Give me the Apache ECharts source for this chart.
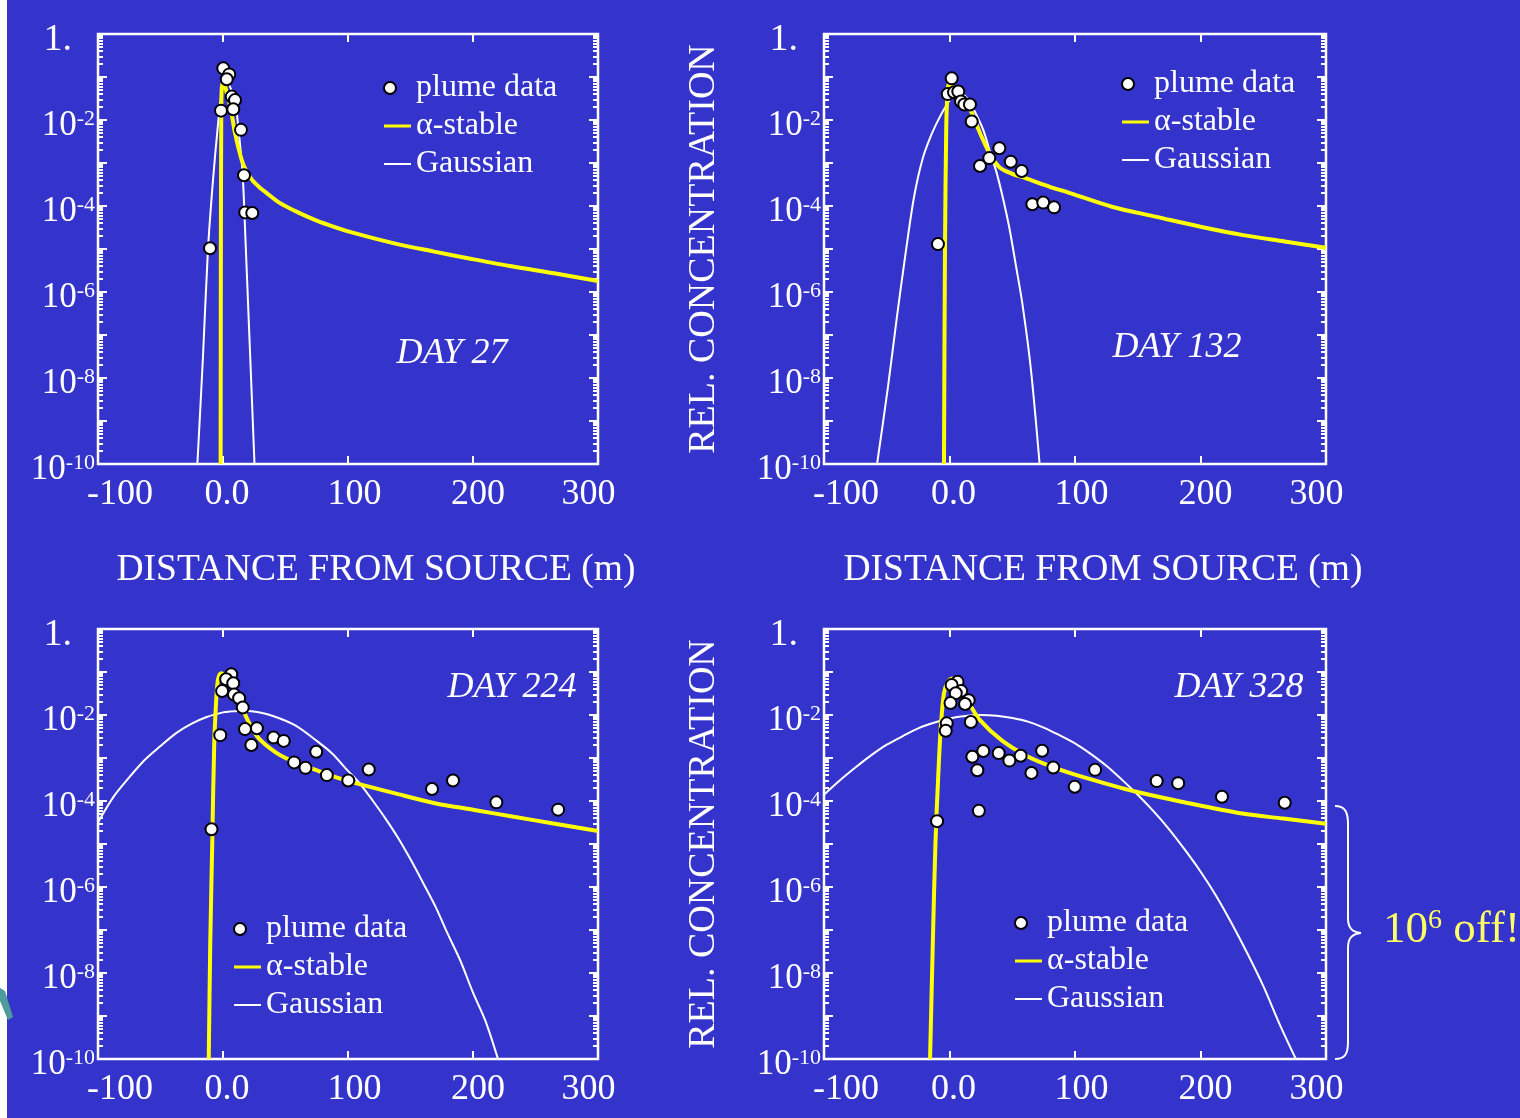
<!DOCTYPE html>
<html>
<head>
<meta charset="utf-8">
<script src="https://cdn.jsdelivr.net/npm/echarts@6/dist/echarts.min.js"></script>
<style>
html,body{margin:0;padding:0;background:#3434cc;}
#c{width:1520px;height:1118px;}
</style>
</head>
<body>
<div id="c"></div>
<script>
// ---------- DATA ----------
// x: distance from source (m), c: relative concentration
const xTicks = [-100, 0, 100, 200, 300];
const xTickLabels = ['-100', '0.0', '100', '200', '300'];
const yLabelTicks = [1, 1e-2, 1e-4, 1e-6, 1e-8, 1e-10];

// DAY 27
const d27PlumeX = [0.2, 5.0, 3.0, 7.0, 9.6, -1.6, 8.2, 14.4, 16.8, 17.8, 23.4, -10.4];
const d27PlumeC = [0.159, 0.115, 0.089, 0.035, 0.029, 0.0165, 0.0178, 5.9e-3, 5.2e-4, 7.1e-5, 6.9e-5, 1.04e-5];
const d27StableX = [-1.9, -1.7, -1.4, -1.0, 0.3, 2.0, 4.0, 6.0, 9.6, 15, 19, 24, 30, 35, 45, 60, 74, 90, 106, 137, 169, 200, 232, 266, 300];
const d27StableC = [1e-10, 1e-5, 1e-2, 5.6e-2, 7.9e-2, 5.6e-2, 3.2e-2, 2.0e-2, 5.0e-3, 1.17e-3, 6.3e-4, 3.8e-4, 2.6e-4, 2.0e-4, 1.2e-4, 7.1e-5, 4.7e-5, 3.2e-5, 2.3e-5, 1.35e-5, 8.7e-6, 5.8e-6, 3.9e-6, 2.7e-6, 1.8e-6];
const d27GaussX = [-20.5, -16, -12, -8, -4, -1, 1.5, 3, 6, 9.6, 12.7, 15.8, 18, 20.5, 23, 25.2];
const d27GaussC = [1e-10, 3.2e-8, 1e-5, 4e-4, 7.9e-3, 4.5e-2, 7.9e-2, 7.9e-2, 5.6e-2, 2.8e-2, 5e-3, 5e-4, 1.6e-5, 2.5e-7, 4e-9, 1e-10];

// DAY 132
const d132PlumeX = [1.75, -1.4, 3.6, 7.0, 9.2, 11.8, 16.3, 17.7, 24.3, 31.7, 39.7, 48.8, 57.5, 66, 74.7, 83.3, -9.2];
const d132PlumeC = [0.093, 0.040, 0.044, 0.046, 0.027, 0.023, 0.023, 9.2e-3, 8.5e-4, 1.3e-3, 2.2e-3, 1.07e-3, 6.5e-4, 1.1e-4, 1.2e-4, 9.3e-5, 1.3e-5];
const d132StableX = [-4.4, -3.6, -2.6, -1.6, -0.4, 2, 6, 10, 13.7, 18, 24.3, 32.3, 40, 50, 60, 80, 96, 130, 165, 200, 234, 267, 300];
const d132StableC = [1e-10, 1e-5, 6.3e-3, 4.5e-2, 7.2e-2, 6.3e-2, 4.5e-2, 3.2e-2, 2.5e-2, 1.4e-2, 5e-3, 1.6e-3, 7.9e-4, 5.6e-4, 4.5e-4, 2.8e-4, 2e-4, 9.5e-5, 5.6e-5, 3.3e-5, 2.1e-5, 1.5e-5, 1.07e-5];
const d132GaussX = [-57.7, -49, -42, -35, -28.3, -21.4, -14.5, -7.6, -2.4, 3, 8, 14, 20, 26.9, 32.3, 37.3, 42, 47.6, 53, 58, 64.9, 71.8];
const d132GaussC = [1e-10, 6.3e-9, 2.5e-7, 7.9e-6, 1.6e-4, 1.26e-3, 4.5e-3, 1.2e-2, 2.2e-2, 3.8e-2, 4.5e-2, 3.2e-2, 1.6e-2, 5.9e-3, 1.8e-3, 6.3e-4, 1.8e-4, 3.2e-5, 4e-6, 5.5e-7, 1.55e-8, 1e-10];

// DAY 224
const d224PlumeX = [6.6, 2.5, 8.2, -0.7, 8.8, 12.9, 15.8, -2.2, 17.6, 27.1, 22.7, 40.4, 48.6, 74.6, 56.9, 66, 83.1, 100.2, 116.6, 167.2, 184, 218.7, 268.1, -9.2];
const d224PlumeC = [0.089, 0.068, 0.055, 0.036, 0.030, 0.0245, 0.015, 3.4e-3, 4.7e-3, 4.9e-3, 2.0e-3, 3.0e-3, 2.5e-3, 1.4e-3, 7.9e-4, 5.9e-4, 4.0e-4, 3.0e-4, 5.4e-4, 1.9e-4, 3.0e-4, 9.3e-5, 6.3e-5, 2.2e-5];
const d224StableX = [-11.4, -10.2, -8.6, -7.0, -5.1, -3.8, -1.4, 2, 8.2, 16, 27.2, 43, 58, 74.6, 90, 106.2, 137.8, 169.4, 201, 232.6, 264.3, 300];
const d224StableC = [1e-10, 4.9e-8, 1.05e-5, 2.2e-3, 3.2e-2, 7.1e-2, 9.3e-2, 7.9e-2, 4.6e-2, 1.3e-2, 3.2e-3, 1.3e-3, 7.9e-4, 5.2e-4, 3.6e-4, 2.6e-4, 1.5e-4, 8.9e-5, 6.2e-5, 4.3e-5, 3.0e-5, 2.0e-5];
const d224GaussX = [-100, -87.5, -75, -62.5, -50, -37.5, -25, -12.5, 0, 5, 15, 27.5, 40, 57.5, 75, 87.5, 100, 110, 120, 130, 140, 150, 160, 170, 180, 190, 200, 210, 220];
const d224GaussC = [3.16e-5, 1.26e-4, 3.55e-4, 9.1e-4, 1.9e-3, 3.8e-3, 6.3e-3, 9.1e-3, 1.15e-2, 1.2e-2, 1.26e-2, 1.17e-2, 9.5e-3, 5.8e-3, 2.5e-3, 1.26e-3, 5e-4, 2.45e-4, 1e-4, 3.9e-5, 1.4e-5, 4.4e-6, 1.26e-6, 3.5e-7, 7.9e-8, 1.9e-8, 3.5e-9, 7.6e-10, 1e-10];

// DAY 328
const d328PlumeX = [6.4, 1.7, 9.3, 5.0, 15.3, 12.4, 0.8, 17.0, -2.2, -3.0, 18.2, 26.9, 39.2, 47.7, 56.7, 73.8, 22.2, 65.3, 82.7, 116, 99.8, 165.1, 182.2, 217.1, 267.1, 23.4, -9.9];
const d328PlumeC = [0.059, 0.050, 0.036, 0.032, 0.022, 0.018, 0.019, 6.9e-3, 6.4e-3, 4.3e-3, 1.07e-3, 1.45e-3, 1.3e-3, 8.7e-4, 1.13e-3, 1.48e-3, 5.2e-4, 4.5e-4, 6.0e-4, 5.3e-4, 2.15e-4, 2.9e-4, 2.6e-4, 1.26e-4, 9.1e-5, 5.9e-5, 3.4e-5];
const d328StableX = [-15.5, -13.3, -11.2, -9.0, -6.9, -4.4, -1.4, 2.1, 8, 15.7, 24.3, 41.4, 62.7, 84, 105.3, 148, 190.7, 233.4, 266, 300];
const d328StableC = [1e-10, 4.9e-8, 1.05e-5, 3.7e-4, 5.4e-3, 3.2e-2, 5.9e-2, 7.1e-2, 4.5e-2, 1.86e-2, 7.6e-3, 2.6e-3, 1.07e-3, 5.9e-4, 3.7e-4, 1.66e-4, 8.9e-5, 5.1e-5, 3.9e-5, 2.95e-5];
const d328GaussX = [-100, -87.5, -75, -62.5, -50, -37.5, -25, -12.5, 0, 12.5, 25, 37.5, 50, 62.5, 75, 87.5, 100, 112.5, 125, 137.5, 150, 162.5, 175, 187.5, 200, 212.5, 225, 237.5, 250, 263, 276];
const d328GaussC = [1.4e-4, 3.0e-4, 6e-4, 1.15e-3, 2.04e-3, 3.2e-3, 4.9e-3, 6.6e-3, 8.3e-3, 9.5e-3, 1e-2, 9.6e-3, 8.5e-3, 7.0e-3, 5.1e-3, 3.4e-3, 2.2e-3, 1.25e-3, 6.6e-4, 3.1e-4, 1.4e-4, 5.8e-5, 2.2e-5, 7.4e-6, 2.3e-6, 6.2e-7, 1.4e-7, 2.8e-8, 5e-9, 6.5e-10, 1e-10];

const dayLabels = ['DAY 27', 'DAY 132', 'DAY 224', 'DAY 328'];
const seriesNames = ['plume data', '\u03b1-stable', 'Gaussian'];

// ---------- BUILD ----------
const FONT = 'Liberation Serif';
const WHITE = '#ffffff';
const zip = (xs, ys) => xs.map((x, i) => [x, ys[i]]);

const yMajor = [];
const yMinor = [];
for (let k = -10; k <= 0; k++) {
  yMajor.push(Math.pow(10, k));
  if (k < 0) for (let m = 2; m <= 9; m++) yMinor.push(m * Math.pow(10, k));
}

const panels = [
  {plume: [d27PlumeX, d27PlumeC], stable: [d27StableX, d27StableC], gauss: [d27GaussX, d27GaussC],
   grid: {left: 98, top: 34, width: 500, height: 430}, legend: {left: 383, top: 72}, xName: true, yName: false,
   day: {x: 452, y: 354}},
  {plume: [d132PlumeX, d132PlumeC], stable: [d132StableX, d132StableC], gauss: [d132GaussX, d132GaussC],
   grid: {left: 824, top: 34, width: 502, height: 430}, legend: {left: 1121, top: 68}, xName: true, yName: true,
   day: {x: 1177, y: 348}},
  {plume: [d224PlumeX, d224PlumeC], stable: [d224StableX, d224StableC], gauss: [d224GaussX, d224GaussC],
   grid: {left: 98, top: 629, width: 500, height: 430}, legend: {left: 233, top: 913}, xName: false, yName: false,
   day: {x: 512, y: 688}},
  {plume: [d328PlumeX, d328PlumeC], stable: [d328StableX, d328StableC], gauss: [d328GaussX, d328GaussC],
   grid: {left: 824, top: 629, width: 502, height: 430}, legend: {left: 1014, top: 907}, xName: false, yName: true,
   day: {x: 1239, y: 688}}
];

const grid = [], xAxis = [], yAxis = [], series = [], legend = [], graphic = [];

const tickStyle = {color: WHITE, width: 2};
const yLabelRich = {
  n: {fontFamily: FONT, fontSize: 35, color: WHITE, lineHeight: 36},
  e: {fontFamily: FONT, fontSize: 22, color: WHITE, lineHeight: 22, verticalAlign: 'top'},
  one: {fontFamily: FONT, fontSize: 38, color: WHITE, lineHeight: 36, padding: [0, 23, 0, 0]}
};
function yFmt(v) {
  const e = Math.round(Math.log10(v));
  if (e === 0) return '{one|1.}';
  return '{n|10}{e|' + e + '}';
}
// x tick labels: each label sits a little off its tick, as in the picture
const xLabelBase = {fontFamily: FONT, fontSize: 36, color: WHITE};
const xLabelRich = {
  t0: Object.assign({padding: [0, 0, 0, 44]}, xLabelBase),
  t1: Object.assign({padding: [0, 0, 0, 8]}, xLabelBase),
  t2: Object.assign({padding: [0, 0, 0, 13]}, xLabelBase),
  t3: Object.assign({padding: [0, 0, 0, 10]}, xLabelBase),
  t4: Object.assign({padding: [0, 19, 0, 0]}, xLabelBase)
};
function xFmt(v) {
  const i = xTicks.indexOf(Math.round(v));
  if (i < 0) return '';
  return '{t' + i + '|' + xTickLabels[i] + '}';
}

panels.forEach((p, g) => {
  grid.push(Object.assign({show: true, borderColor: WHITE, borderWidth: 2.5, backgroundColor: 'transparent',
    containLabel: false, outerBoundsMode: 'none'}, p.grid));

  // bottom x axis
  xAxis.push({
    gridIndex: g, type: 'value', position: 'bottom', min: xTicks[0], max: xTicks[xTicks.length - 1], interval: 100,
    axisLine: {show: false, onZero: false}, splitLine: {show: false},
    axisTick: {show: true, inside: true, length: 8, lineStyle: tickStyle},
    axisLabel: {show: true, color: WHITE, fontFamily: FONT, fontSize: 36, margin: 13,
      showMinLabel: true, showMaxLabel: true, formatter: xFmt, rich: xLabelRich},
    name: p.xName ? 'DISTANCE FROM SOURCE (m)' : '', nameLocation: 'middle', nameGap: 87,
    nameTextStyle: {color: WHITE, fontFamily: FONT, fontSize: 37.5, padding: [0, 0, 0, 56]}
  });
  // top x axis (ticks only)
  xAxis.push({
    gridIndex: g, type: 'value', position: 'top', min: xTicks[0], max: xTicks[xTicks.length - 1], interval: 100,
    axisLine: {show: false, onZero: false}, splitLine: {show: false},
    axisTick: {show: true, inside: true, length: 8, lineStyle: tickStyle},
    axisLabel: {show: false}
  });

  const baseY = {gridIndex: g, type: 'log', logBase: 10, min: 1e-10, max: 1,
    axisLine: {show: false, onZero: false}, splitLine: {show: false}, minorTick: {show: false}};
  // left major
  yAxis.push(Object.assign({}, baseY, {
    position: 'left',
    axisTick: {show: true, inside: true, length: 9, lineStyle: tickStyle, customValues: yMajor},
    axisLabel: {show: true, margin: 3, customValues: yLabelTicks, formatter: yFmt, rich: yLabelRich,
      padding: [12, 0, 0, 0]},
    name: p.yName ? 'REL. CONCENTRATION' : '', nameLocation: 'middle', nameGap: 101, nameRotate: 90,
    nameTextStyle: {color: WHITE, fontFamily: FONT, fontSize: 38}
  }));
  // left minor
  yAxis.push(Object.assign({}, baseY, {
    position: 'left',
    axisTick: {show: true, inside: true, length: 5, lineStyle: tickStyle, customValues: yMinor},
    axisLabel: {show: false}
  }));
  // right major
  yAxis.push(Object.assign({}, baseY, {
    position: 'right',
    axisTick: {show: true, inside: true, length: 9, lineStyle: tickStyle, customValues: yMajor},
    axisLabel: {show: false}
  }));
  // right minor
  yAxis.push(Object.assign({}, baseY, {
    position: 'right',
    axisTick: {show: true, inside: true, length: 5, lineStyle: tickStyle, customValues: yMinor},
    axisLabel: {show: false}
  }));

  const xi = 2 * g, yi = 4 * g;
  series.push({
    name: seriesNames[2], type: 'line', xAxisIndex: xi, yAxisIndex: yi, data: zip(p.gauss[0], p.gauss[1]),
    symbol: 'none', smooth: 0.3, lineStyle: {color: WHITE, width: 2}, itemStyle: {color: WHITE}, z: 2,
    silent: true, animation: false
  });
  series.push({
    name: seriesNames[1], type: 'line', xAxisIndex: xi, yAxisIndex: yi, data: zip(p.stable[0], p.stable[1]),
    symbol: 'none', smooth: 0.3, lineStyle: {color: '#ffff00', width: 4}, itemStyle: {color: '#ffff00'}, z: 3,
    silent: true, animation: false
  });
  series.push({
    name: seriesNames[0], type: 'scatter', xAxisIndex: xi, yAxisIndex: yi, data: zip(p.plume[0], p.plume[1]),
    symbol: 'circle', symbolSize: 12, itemStyle: {color: WHITE, borderColor: '#000000', borderWidth: 2, opacity: 1},
    z: 5, silent: true, animation: false
  });

  legend.push({
    show: true, orient: 'vertical', left: p.legend.left, top: p.legend.top, padding: 0,
    itemWidth: 27, itemHeight: 12, itemGap: 6, selectedMode: false, symbolKeepAspect: true,
    textStyle: {color: WHITE, fontFamily: FONT, fontSize: 32, lineHeight: 32},
    data: [
      {name: seriesNames[0], icon: 'path://M0,6A6,6,0,1,0,12,6A6,6,0,1,0,0,6Z M27,0L27,0.01 M27,12L27,11.99'},
      {name: seriesNames[1], icon: 'path://M0,4.5H27V7.5H0Z M0,0L0.01,0 M0,12L0.01,12'},
      {name: seriesNames[2], icon: 'path://M0,5H27V7H0Z M0,0L0.01,0 M0,12L0.01,12'}
    ]
  });

  graphic.push({
    type: 'text', x: p.day.x, y: p.day.y, silent: true,
    style: {text: dayLabels[g], fill: WHITE, font: 'italic 36px "Liberation Serif"', align: 'center', verticalAlign: 'middle'}
  });
});

// brace and annotation
const braceStyle = {stroke: WHITE, lineWidth: 2, fill: null};
graphic.push({type: 'bezierCurve', silent: true, shape: {x1: 1335, y1: 806, cpx1: 1345, cpy1: 806, cpx2: 1348, cpy2: 812, x2: 1348, y2: 824}, style: braceStyle});
graphic.push({type: 'line', silent: true, shape: {x1: 1348, y1: 824, x2: 1348, y2: 918}, style: braceStyle});
graphic.push({type: 'bezierCurve', silent: true, shape: {x1: 1348, y1: 918, cpx1: 1348, cpy1: 928, cpx2: 1352, cpy2: 932, x2: 1361, y2: 933}, style: braceStyle});
graphic.push({type: 'bezierCurve', silent: true, shape: {x1: 1361, y1: 933, cpx1: 1352, cpy1: 934, cpx2: 1348, cpy2: 938, x2: 1348, y2: 948}, style: braceStyle});
graphic.push({type: 'line', silent: true, shape: {x1: 1348, y1: 948, x2: 1348, y2: 1042}, style: braceStyle});
graphic.push({type: 'bezierCurve', silent: true, shape: {x1: 1348, y1: 1042, cpx1: 1348, cpy1: 1054, cpx2: 1345, cpy2: 1059, x2: 1335, y2: 1059}, style: braceStyle});
graphic.push({
  type: 'text', x: 1383, y: 930, silent: true,
  style: {
    text: '{a|10}{b|6}{a| off!}', verticalAlign: 'middle', align: 'left',
    rich: {
      a: {fill: '#ffff66', fontFamily: FONT, fontSize: 45, lineHeight: 46},
      b: {fill: '#ffff66', fontFamily: FONT, fontSize: 28, lineHeight: 28, verticalAlign: 'top'}
    }
  }
});
// white strip at left edge and small teal slide decoration
graphic.push({type: 'rect', silent: true, shape: {x: 0, y: 0, width: 7, height: 1118}, style: {fill: '#ffffff'}});
graphic.push({type: 'polygon', silent: true, shape: {points: [[0, 988], [5, 991], [13, 1017], [8, 1020], [0, 1001]]}, style: {fill: '#4f9a9a'}});

const chart = echarts.init(document.getElementById('c'), null, {renderer: 'canvas'});
chart.setOption({
  backgroundColor: '#3434cc',
  animation: false,
  grid, xAxis, yAxis, series, legend, graphic
});
</script>
</body>
</html>
